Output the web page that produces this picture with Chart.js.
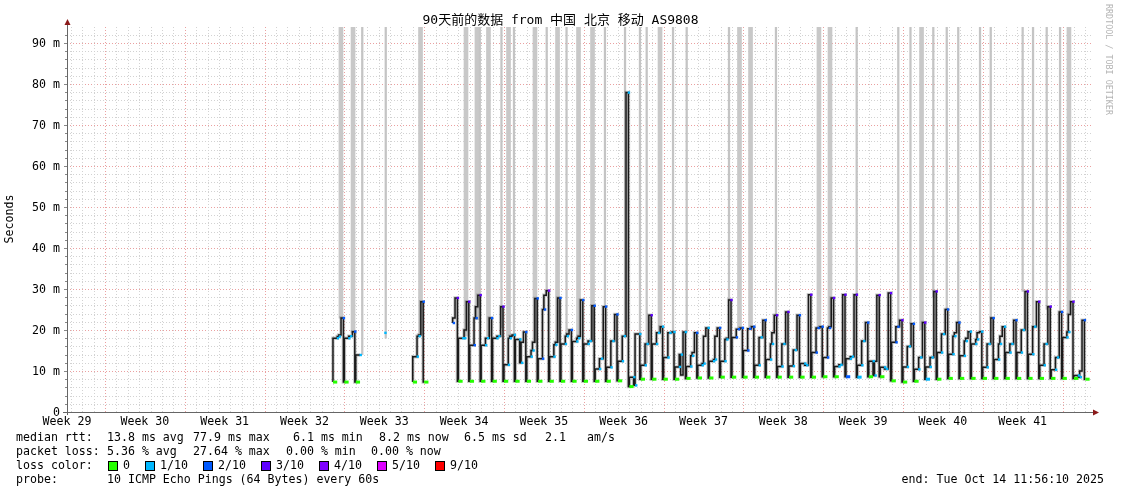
<!DOCTYPE html>
<html lang="zh">
<head>
    <meta charset="UTF-8">
    <title>SmokePing 90天</title>
    <script src="https://cdn.jsdelivr.net/npm/chart.js"></script>
    <style>
        html, body { margin: 0; padding: 0; background: #fff; }
    </style>
</head>
<body>

    <canvas id="grafico" width="1121" height="494"></canvas>

    <script>
        // giorni (mezzanotte = intero), in ms
        const dayNo   = [23, 24, 25, 27, 30, 31, 33, 34, 35, 36, 37, 38, 39, 40, 41, 42, 43, 44, 45, 46, 47, 48, 49, 50, 51, 52, 53, 54, 55, 56, 57, 58, 59, 60, 61, 62, 63, 64, 65, 66, 67, 68, 69, 70, 71, 72, 73, 74, 75, 76, 77, 78, 79, 80, 81, 82, 83, 84, 85, 86, 87, 88, 89];
        const lowMs   = [7.3, 7.3, 7.3, null, 7.3, 7.3, null, 7.5, 7.5, 7.5, 7.5, 7.5, 7.5, 7.5, 7.5, 7.5, 7.5, 7.5, 7.5, 7.5, 7.5, 7.6, 6.2, 8.0, 8.0, 8.0, 8.0, 8.2, 8.3, 8.3, 8.5, 8.5, 8.5, 8.5, 8.5, 8.5, 8.5, 8.5, 8.5, 8.6, 8.6, 8.6, 8.5, 8.6, 8.6, 7.6, 7.3, 7.5, 8.0, 8.0, 8.2, 8.2, 8.2, 8.2, 8.2, 8.2, 8.2, 8.2, 8.2, 8.2, 8.2, 8.2, 8.0];
        const amMs    = [18.0, 18.0, 13.9, null, 13.5, null, null, 18.0, 16.3, 16.3, 18.0, 11.5, 17.7, 13.5, 13.0, 13.5, 16.6, 17.2, 16.6, 10.5, 10.9, 12.4, 8.5, 11.4, 16.6, 13.3, 11.0, 11.1, 11.4, 12.4, 12.4, 18.2, 15.0, 11.4, 12.8, 11.1, 11.2, 11.8, 14.5, 13.3, 11.1, 13.0, 11.4, 12.4, 10.9, 17.0, 11.0, 10.4, 11.0, 14.5, 14.1, 13.7, 16.6, 10.9, 12.8, 14.5, 14.5, 14.1, 11.4, 10.3, 18.2, 8.9, null];
        const noonMs  = [18.4, 18.5, null, 19.3, 18.5, null, 21.7, 18.0, 22.9, 18.0, 18.5, 18.0, 12.0, 15.0, 25.0, 16.4, 18.5, 18.0, 17.3, 13.0, 17.3, 18.5, 6.5, 16.6, 19.3, 19.3, 14.0, 13.7, 11.8, 12.8, 17.7, 20.2, 20.3, 18.2, 16.6, 16.6, 15.1, 11.4, 20.5, 20.5, 11.5, 13.5, 17.3, 8.9, 10.5, 20.8, 16.0, 13.3, 13.3, 19.0, 18.5, 17.3, 17.7, 16.6, 16.6, 16.6, 20.0, 20.8, 16.6, 13.3, 19.5, 8.5, null];
        const eveMs   = [18.8, 18.5, null, null, 18.8, null, 22.9, 20.0, 25.7, 18.0, 18.5, 18.5, 17.0, 17.0, 28.5, 17.0, 19.0, 18.5, 17.3, 13.0, 17.3, 18.5, 19.0, 16.6, 19.3, 19.3, 9.0, 14.5, 18.5, 18.5, 18.0, 20.2, 20.3, 18.2, 19.3, 16.6, 15.1, 11.4, 20.5, 20.8, 11.5, 13.5, 17.3, 12.4, 10.5, 20.8, 16.0, 13.3, 13.3, 19.0, 19.3, 18.0, 19.3, 16.6, 18.5, 16.6, 20.0, 20.8, 16.6, 13.3, 23.8, 10.0, null];
        const peakMs  = [22.9, 19.6, null, null, 26.9, null, 27.8, 26.9, 28.5, 22.9, 25.7, 18.8, 19.5, 27.7, 29.6, 27.8, 20.0, 27.3, 25.9, 25.7, 23.8, 77.9, 19.0, 23.6, 20.8, 19.5, 19.5, 19.3, 20.5, 20.5, 27.3, 20.5, 20.8, 22.4, 23.6, 24.4, 23.6, 28.6, 20.8, 27.8, 28.6, 28.6, 21.8, 28.5, 29.0, 22.4, 21.5, 21.8, 29.4, 25.0, 21.8, 19.6, 19.6, 22.9, 20.8, 22.4, 29.4, 26.9, 25.7, 24.4, 26.9, 22.4, null];
        // perdita (decimi) per fascia
        const lowLoss  = [0, 0, 0, 0, 0, 0, 0, 0, 0, 0, 0, 0, 0, 0, 0, 0, 0, 0, 0, 0, 0, 0, 0, 0, 0, 0, 0, 0, 0, 0, 0, 0, 0, 0, 0, 0, 0, 0, 0, 0, 0, 2, 1, 0, 0, 0, 0, 0, 1, 0, 0, 0, 0, 0, 0, 0, 0, 0, 0, 0, 0, 0, 0];
        const midLoss  = [1, 1, 1, 1, 1, 0, 2, 1, 2, 1, 1, 1, 1, 1, 2, 1, 1, 1, 1, 1, 1, 1, 1, 1, 1, 1, 1, 1, 1, 1, 1, 2, 2, 1, 1, 1, 1, 1, 2, 2, 1, 1, 1, 1, 1, 2, 1, 1, 1, 1, 1, 1, 1, 1, 1, 1, 1, 1, 1, 1, 1, 1, 0];
        const peakLoss = [2, 2, 0, 0, 2, 0, 3, 3, 3, 2, 3, 1, 2, 2, 4, 2, 2, 2, 2, 2, 2, 1, 1, 3, 1, 1, 1, 2, 1, 2, 3, 2, 2, 2, 3, 3, 2, 3, 2, 3, 3, 3, 2, 3, 3, 3, 2, 3, 3, 2, 2, 1, 1, 2, 1, 2, 3, 3, 3, 2, 3, 2, 0];

        // fasce grigie (smoke fuori scala): posizione in giorni, valore inferiore
        const wideBandAt   = [23.70, 24.76, 30.68, 34.67, 35.63, 36.64, 38.40, 40.72, 42.70, 44.54, 45.77, 51.69, 58.66, 59.63, 65.63, 66.60, 74.63, 87.56];
        const wideBandFrom = [22.9, 19.3, 19.0, 18.5, 22.5, 18.5, 18.5, 17.0, 17.0, 18.0, 17.3, 19.5, 20.5, 20.8, 20.8, 20.8, 20.0, 24.0];
        const thinBandAt   = [25.57, 27.63, 35.88, 37.78, 38.88, 41.75, 43.49, 46.86, 48.62, 49.93, 50.52, 52.83, 54.03, 57.74, 61.86, 68.94, 72.59, 73.66, 75.66, 76.84, 77.85, 79.76, 80.70, 83.50, 84.41, 85.61, 86.78];
        const thinBandFrom = [14.0, 18.0, 25.0, 20.5, 19.0, 29.6, 18.5, 25.7, 18.5, 19.0, 12.0, 19.3, 19.5, 27.3, 23.6, 28.6, 20.8, 21.5, 28.0, 25.0, 21.8, 19.6, 22.9, 29.4, 20.0, 25.0, 24.4];

        const yTickVals   = [0, 10, 20, 30, 40, 50, 60, 70, 80, 90];
        const yTickLabels = ['0', '10 m', '20 m', '30 m', '40 m', '50 m', '60 m', '70 m', '80 m', '90 m'];
        const weekPos     = [-0.33, 6.5, 13.5, 20.5, 27.5, 34.5, 41.5, 48.5, 55.5, 62.5, 69.5, 76.5, 83.5];
        const weekLabels  = ['Week 29', 'Week 30', 'Week 31', 'Week 32', 'Week 33', 'Week 34', 'Week 35', 'Week 36', 'Week 37', 'Week 38', 'Week 39', 'Week 40', 'Week 41'];

        const lossColors = { 0: '#26ff00', 1: '#00b8ff', 2: '#0059ff', 3: '#5e00ff', 4: '#7e00ff', 5: '#dd00ff', 9: '#ff0000' };
        const lossKeys   = ['0', '1/10', '2/10', '3/10', '4/10', '5/10', '9/10'];
        const lossIdx    = [0, 1, 2, 3, 4, 5, 9];

        const Y_MAX = 93.9;
        const H = 1 / 24;
        const FONT = '"DejaVu Sans Mono", "Liberation Mono", "Noto Sans CJK SC", monospace';

        // punti della mediana (gradini)
        const lineaPts = [];
        dayNo.forEach((d, i) => {
            lineaPts.push({ x: d, y: lowMs[i] }, { x: d + 9 * H, y: amMs[i] }, { x: d + 12 * H, y: noonMs[i] },
                          { x: d + 17 * H, y: eveMs[i] }, { x: d + 22 * H, y: peakMs[i] });
        });

        // tratto notturno colorato
        const bassoPts = [], bassoCol = [];
        dayNo.forEach((d, i) => {
            if (lowMs[i] === null) return;
            const c = lossColors[lowLoss[i]];
            bassoPts.push({ x: d, y: lowMs[i] }, { x: d + 9 * H, y: lowMs[i] }, { x: d + 9 * H, y: null });
            bassoCol.push(c, c, c);
        });

        // marcatori di perdita
        const puntiPts = [], puntiCol = [];
        dayNo.forEach((d, i) => {
            if (amMs[i] !== null && midLoss[i] > 0) { puntiPts.push({ x: d + 10.5 * H, y: amMs[i] }); puntiCol.push(lossColors[midLoss[i]]); }
            if (noonMs[i] !== null && midLoss[i] > 0) { puntiPts.push({ x: d + 14.5 * H, y: noonMs[i] }); puntiCol.push(lossColors[midLoss[i]]); }
            if (peakMs[i] !== null && peakLoss[i] > 0) { puntiPts.push({ x: d + 23 * H, y: peakMs[i] }); puntiCol.push(lossColors[peakLoss[i]]); }
        });

        const sfondo = {
            id: 'sfondo',
            beforeDatasetsDraw(chart) {
                const { ctx, chartArea: a, scales: { x, y } } = chart;
                ctx.save();
                ctx.lineWidth = 1;
                ctx.setLineDash([1, 2]);
                for (let v = 2; v < Y_MAX; v += 2) {
                    const py = Math.round(y.getPixelForValue(v)) + 0.5;
                    ctx.strokeStyle = v % 10 === 0 ? '#eaa0a0' : '#d2d2d2';
                    ctx.beginPath(); ctx.moveTo(a.left, py); ctx.lineTo(a.right, py); ctx.stroke();
                }
                for (let n = 0; n < 90; n++) {
                    const px = Math.round(x.getPixelForValue(n)) + 0.5;
                    ctx.strokeStyle = (n - 3) % 7 === 0 ? '#eaa0a0' : '#d2d2d2';
                    ctx.beginPath(); ctx.moveTo(px, a.top); ctx.lineTo(px, a.bottom); ctx.stroke();
                }
                ctx.restore();
            },
            afterDraw(chart) {
                const { ctx, chartArea: a, scales: { x, y } } = chart;
                ctx.save();
                ctx.setLineDash([]);
                // assi
                ctx.strokeStyle = '#666';
                ctx.lineWidth = 1;
                ctx.beginPath();
                ctx.moveTo(a.left + 0.5, a.bottom + 3); ctx.lineTo(a.left + 0.5, a.top - 4);
                ctx.moveTo(a.left - 4, a.bottom + 0.5); ctx.lineTo(a.right + 2, a.bottom + 0.5);
                ctx.stroke();
                ctx.fillStyle = '#8b1a1a';
                ctx.beginPath();
                ctx.moveTo(a.left + 0.5, a.top - 8); ctx.lineTo(a.left - 2.5, a.top - 2); ctx.lineTo(a.left + 3.5, a.top - 2);
                ctx.fill();
                ctx.beginPath();
                ctx.moveTo(a.right + 6, a.bottom + 0.5); ctx.lineTo(a.right, a.bottom - 2.5); ctx.lineTo(a.right, a.bottom + 3.5);
                ctx.fill();

                // tacche
                ctx.strokeStyle = '#888';
                for (let v = 2; v < Y_MAX; v += 2) {
                    const py = Math.round(y.getPixelForValue(v)) + 0.5;
                    ctx.beginPath(); ctx.moveTo(a.left - (v % 10 === 0 ? 3 : 2), py); ctx.lineTo(a.left, py); ctx.stroke();
                }

                ctx.fillStyle = '#000';
                ctx.font = '11.6px ' + FONT;
                ctx.textBaseline = 'middle';
                ctx.textAlign = 'right';
                yTickVals.forEach((v, i) => ctx.fillText(yTickLabels[i], 60, Math.round(y.getPixelForValue(v)) + 1));
                ctx.textAlign = 'center';
                weekPos.forEach((p, i) => ctx.fillText(weekLabels[i], x.getPixelForValue(p), 422));

                // titolo
                ctx.font = '13px ' + FONT;
                ctx.fillText('90天前的数据 from 中国 北京 移动 AS9808', 560.5, 21);

                // etichetta asse y
                ctx.font = '11.6px ' + FONT;
                ctx.save();
                ctx.translate(10, 219);
                ctx.rotate(-Math.PI / 2);
                ctx.fillText('Seconds', 0, 0);
                ctx.restore();

                // firma rrdtool
                ctx.save();
                ctx.fillStyle = '#b4b4b4';
                ctx.font = '8.4px ' + FONT;
                ctx.translate(1108, 4);
                ctx.rotate(Math.PI / 2);
                ctx.textAlign = 'left';
                ctx.fillText('RRDTOOL / TOBI OETIKER', 0, 0);
                ctx.restore();

                // legenda
                ctx.textAlign = 'left';
                ctx.font = '11.6px ' + FONT;
                const righe = [
                    [438, [['median rtt:', 16], ['13.8 ms avg', 107], ['77.9 ms max', 193], ['6.1 ms min', 293], ['8.2 ms now', 379], ['6.5 ms sd', 464], ['2.1', 545], ['am/s', 587]]],
                    [452, [['packet loss:', 16], ['5.36 % avg', 107], ['27.64 % max', 193], ['0.00 % min', 286], ['0.00 % now', 371]]],
                    [466, [['loss color:', 16]]],
                    [480, [['probe:', 16], ['10 ICMP Echo Pings (64 Bytes) every 60s', 107]]]
                ];
                righe.forEach(([py, pezzi]) => pezzi.forEach(([t, px]) => ctx.fillText(t, px, py)));
                const quadX = [108, 145, 203, 261, 319, 377, 435];
                lossKeys.forEach((k, i) => {
                    ctx.fillStyle = lossColors[lossIdx[i]];
                    ctx.fillRect(quadX[i], 461, 9, 9);
                    ctx.strokeStyle = '#000';
                    ctx.strokeRect(quadX[i] + 0.5, 461.5, 9, 9);
                    ctx.fillStyle = '#000';
                    ctx.fillText(k, quadX[i] + 15, 466);
                });
                ctx.textAlign = 'right';
                ctx.fillText('end: Tue Oct 14 11:56:10 2025', 1104, 480);
                ctx.restore();
            }
        };

        const ctx = document.getElementById('grafico').getContext('2d');
        const chart = new Chart(ctx, {
            data: {
                datasets: [
                    {
                        type: 'bar',
                        data: wideBandAt.map((p, i) => ({ x: p, y: [wideBandFrom[i], Y_MAX] })),
                        backgroundColor: '#c8c8c8',
                        barThickness: 4,
                        grouped: false,
                        order: 6
                    },
                    {
                        type: 'bar',
                        data: thinBandAt.map((p, i) => ({ x: p, y: [thinBandFrom[i], Y_MAX] })),
                        backgroundColor: '#c4c4c4',
                        barThickness: 1.6,
                        grouped: false,
                        order: 5
                    },
                    {
                        // alone grigio attorno alla mediana
                        type: 'line',
                        data: lineaPts,
                        borderColor: 'rgba(80,80,80,0.3)',
                        borderWidth: 3.5,
                        stepped: 'after',
                        pointRadius: 0,
                        spanGaps: false,
                        order: 4
                    },
                    {
                        type: 'line',
                        data: lineaPts,
                        borderColor: '#1a1a1a',
                        borderWidth: 1.5,
                        stepped: 'after',
                        pointRadius: 0,
                        spanGaps: false,
                        order: 3
                    },
                    {
                        type: 'line',
                        data: bassoPts,
                        borderColor: '#26ff00',
                        segment: { borderColor: c => bassoCol[c.p0DataIndex] },
                        borderWidth: 3,
                        pointRadius: 0,
                        spanGaps: false,
                        order: 2
                    },
                    {
                        type: 'line',
                        data: puntiPts,
                        showLine: false,
                        pointStyle: 'rect',
                        pointRadius: 1.7,
                        pointBorderWidth: 0,
                        pointBackgroundColor: puntiCol,
                        order: 1
                    }
                ]
            },
            options: {
                responsive: false,
                animation: false,
                layout: { padding: { left: 67, right: 28, top: 27, bottom: 82 } },
                plugins: { legend: { display: false }, tooltip: { enabled: false } },
                scales: {
                    x: { type: 'linear', min: -0.33, max: 89.67, offset: false, display: false },
                    y: { min: 0, max: Y_MAX, display: false }
                }
            },
            plugins: [sfondo]
        });
    </script>

</body>
</html>
